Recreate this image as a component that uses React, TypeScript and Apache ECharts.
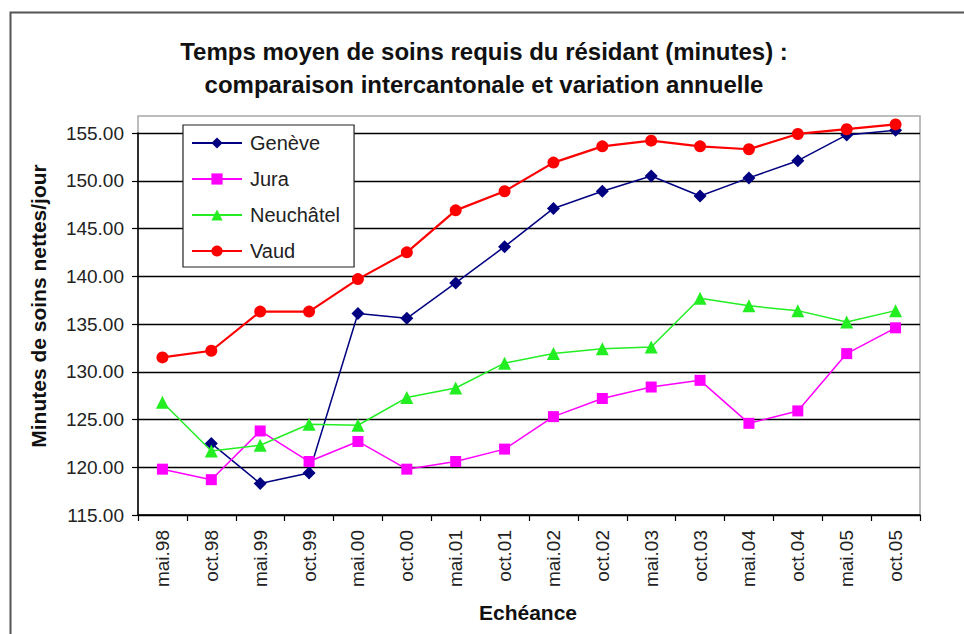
import React, { useEffect, useRef } from "react";
import * as echarts from "echarts";

const categories = [
  "mai.98", "oct.98", "mai.99", "oct.99", "mai.00", "oct.00", "mai.01", "oct.01",
  "mai.02", "oct.02", "mai.03", "oct.03", "mai.04", "oct.04", "mai.05", "oct.05",
];

const geneve = [null, 122.5, 118.3, 119.4, 136.1, 135.6, 139.3, 143.1, 147.1, 148.9, 150.5, 148.4, 150.3, 152.1, 154.8, 155.3];
const jura = [119.8, 118.7, 123.8, 120.6, 122.7, 119.8, 120.6, 121.9, 125.3, 127.2, 128.4, 129.1, 124.6, 125.9, 131.9, 134.6];
const neuchatel = [126.8, 121.7, 122.3, 124.5, 124.4, 127.3, 128.3, 130.9, 131.9, 132.4, 132.6, 137.7, 136.9, 136.4, 135.2, 136.4];
const vaud = [131.5, 132.2, 136.3, 136.3, 139.7, 142.5, 146.9, 148.9, 151.9, 153.6, 154.2, 153.6, 153.3, 154.9, 155.4, 155.9];

const yTickValues = [115, 120, 125, 130, 135, 140, 145, 150, 155];

const titleLines = [
  "Temps moyen de soins requis du résidant (minutes) :",
  "comparaison intercantonale et variation annuelle",
];
const yTitle = "Minutes de soins nettes/jour";
const xTitle = "Echéance";

const FONT = "'Liberation Sans', Arial, sans-serif";

export default function App() {
  const ref = useRef<HTMLDivElement>(null);

  useEffect(() => {
    if (!ref.current) return;
    const chart = echarts.init(ref.current, undefined, { renderer: "svg" });

    const mk = (name: string, data: (number | null)[], color: string, symbol: string, size: number, width: number) => ({
      name,
      type: "line",
      data,
      clip: false,
      symbol,
      symbolSize: size,
      showAllSymbol: true,
      connectNulls: false,
      itemStyle: { color, borderWidth: 0 },
      lineStyle: { color, width },
      emphasis: { disabled: true },
    });

    chart.setOption({
      animation: false,
      backgroundColor: "#ffffff",
      textStyle: { fontFamily: FONT },
      title: {
        text: titleLines.join("\n"),
        left: 479,
        textAlign: "center",
        top: 30,
        textStyle: {
          fontFamily: FONT,
          fontSize: 24,
          fontWeight: "bold",
          color: "#111",
          lineHeight: 33,
        },
      },
      legend: {
        orient: "vertical",
        left: 183,
        top: 125,
        padding: [8, 14, 6, 8],
        itemGap: 16,
        itemWidth: 50,
        itemHeight: 14,
        backgroundColor: "#ffffff",
        borderColor: "#222",
        borderWidth: 1.2,
        textStyle: { fontFamily: FONT, fontSize: 20, color: "#222", padding: [0, 0, 0, 3] },
        data: ["Genève", "Jura", "Neuchâtel", "Vaud"],
      },
      grid: { left: 138, top: 133, right: 44, bottom: 119, containLabel: false },
      xAxis: {
        type: "category",
        data: categories,
        boundaryGap: true,
        axisLine: { lineStyle: { color: "#000", width: 1.5 } },
        axisTick: { show: true, alignWithLabel: false, length: 6, lineStyle: { color: "#000", width: 1.2 } },
        axisLabel: {
          rotate: 90,
          margin: 15,
          fontFamily: FONT,
          fontSize: 19,
          color: "#222",
          interval: 0,
        },
        splitLine: { show: false },
      },
      yAxis: {
        type: "value",
        min: yTickValues[0],
        max: yTickValues[yTickValues.length - 1],
        interval: 5,
        axisLine: { show: true, lineStyle: { color: "#000", width: 1.5 } },
        axisTick: { show: true, length: 6, lineStyle: { color: "#000", width: 1.2 } },
        axisLabel: {
          margin: 14,
          fontFamily: FONT,
          fontSize: 19,
          color: "#222",
          formatter: (v: number) => v.toFixed(2),
        },
        splitLine: { show: true, lineStyle: { color: "#000", width: 1.3 } },
      },
      graphic: [
        {
          type: "rect",
          left: 8,
          top: 10,
          shape: { x: 0, y: 0, width: 1000, height: 700 },
          style: { fill: "none", stroke: "#555", lineWidth: 2 },
          silent: true,
          z: -10,
        },
        {
          type: "rect",
          shape: { x: 138, y: 116, width: 782, height: 399 },
          style: { fill: "none", stroke: "#a8a8a8", lineWidth: 1.5 },
          silent: true,
          z: -5,
        },
        {
          type: "text",
          x: 38,
          y: 306,
          rotation: Math.PI / 2,
          style: {
            text: yTitle,
            fontFamily: FONT,
            fontSize: 21,
            fontWeight: "bold",
            fill: "#111",
            align: "center",
            verticalAlign: "middle",
          },
          silent: true,
        },
        {
          type: "text",
          x: 528,
          y: 612,
          style: {
            text: xTitle,
            fontFamily: FONT,
            fontSize: 21,
            fontWeight: "bold",
            fill: "#111",
            align: "center",
            verticalAlign: "middle",
          },
          silent: true,
        },
      ],
      series: [
        mk("Genève", geneve, "#000080", "diamond", 13, 1.5),
        mk("Jura", jura, "#ff00ff", "rect", 11, 1.5),
        mk("Neuchâtel", neuchatel, "#22ee22", "triangle", 13, 1.5),
        mk("Vaud", vaud, "#ff0000", "circle", 12, 2.2),
      ],
    });

    return () => chart.dispose();
  }, []);

  return (
    <div
      ref={ref}
      style={{ position: "fixed", left: 0, top: 0, width: 964, height: 634, background: "#fff" }}
    />
  );
}
